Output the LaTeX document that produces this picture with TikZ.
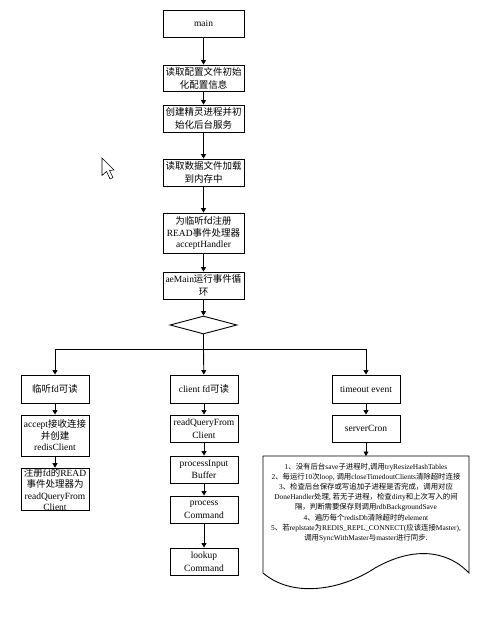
\documentclass[tikz,border=0pt]{standalone}
\usepackage{fontspec}
\setmainfont{Liberation Serif}
\newfontfamily\cjk{Noto Sans CJK SC}[Scale=1.0]
\newcommand{\zh}[1]{{\cjk #1}}
\usetikzlibrary{arrows.meta,shapes.geometric}
\tikzset{
  flow/.style={draw=black,line width=0.9pt,align=center,inner sep=0pt,font=\fontsize{9.5}{12.8}\selectfont,minimum width=81pt},
  side/.style={flow,minimum width=68pt},
  tight/.style={font=\fontsize{9.5}{11.5}\selectfont},
  link/.style={draw=black,line width=0.9pt,-{Triangle[length=4.5pt,width=5pt]}},
  plain/.style={draw=black,line width=0.9pt},
  doctext/.style={align=center,inner sep=0pt,font=\fontsize{7.4}{10.2}\selectfont},
}
\begin{document}
\begin{tikzpicture}[x=1pt,y=-1pt]
\useasboundingbox (0,0) rectangle (483,617);
\fill[white] (0,0) rectangle (483,617);
% cursor
\draw[line width=0.6pt,fill=white,line join=miter] (102,158) -- (102,175.5) -- (106.5,171.5) -- (110,179) -- (113,177.5) -- (109.5,170.5) -- (114,170) -- cycle;
% centre column
\node[flow,minimum height=27pt] (main) at (203.5,23.5) {main};
\node[flow,minimum height=26pt] (conf) at (203.5,78) {\zh{读取配置文件初始}\\\zh{化配置信息}};
\node[flow,minimum height=27pt] (daemon) at (203.5,118.5) {\zh{创建精灵进程并初}\\\zh{始化后台服务}};
\node[flow,minimum height=27pt] (load) at (203.5,172.5) {\zh{读取数据文件加载}\\\zh{到内存中}};
\node[flow,tight,minimum height=40pt] (reg) at (203.5,233) {\zh{为临听fd注册}\\READ\zh{事件处理器}\\acceptHandler};
\node[flow,minimum height=27pt] (loop) at (203.5,285.5) {aeMain\zh{运行事件循}\\\zh{环}};
\node[diamond,aspect=3.7,draw=black,line width=0.9pt,inner sep=0pt,minimum width=67pt,minimum height=18pt] (dec) at (203.5,325) {};
% bus
\coordinate (busL) at (55,349);
\coordinate (busM) at (203.5,349);
\coordinate (busR) at (366,349);
% left column
\node[side,minimum height=28pt] (lfd) at (55,389) {\zh{临听}fd\zh{可读}};
\node[side,tight,minimum height=41pt] (acc) at (55,435.5) {accept\zh{接收连接}\\\zh{并创建}\\redisClient};
\node[side,tight,minimum height=41pt] (rq) at (55,489.5) {\zh{注册}fd\zh{的}READ\\\zh{事件处理器为}\\readQueryFrom\\Client};
% middle column
\node[side,minimum height=28pt] (cfd) at (204,389) {client fd\zh{可读}};
\node[side,minimum height=27pt] (rqc) at (204,428.5) {readQueryFrom\\Client};
\node[side,minimum height=27pt] (pib) at (204,469.5) {processInput\\Buffer};
\node[side,minimum height=27pt] (pc) at (204,509.5) {process\\Command};
\node[side,minimum height=27pt] (lc) at (204,561.5) {lookup\\Command};
% right column
\node[side,minimum height=28pt] (te) at (366,389) {timeout event};
\node[side,minimum height=27pt] (sc) at (366,428.5) {serverCron};
\coordinate (dtop) at (366,456);
\draw[plain] (263,456) -- (469,456) -- (469,573) .. controls (445,548) and (410,548) .. (375,568) .. controls (345,588) and (295,600) .. (263,573) -- cycle;
\node[doctext] (note) at (366,502.5) {1\zh{、没有后台}save\zh{子进程时,调用}tryResizeHashTables\\
2\zh{、每运行}10\zh{次}loop, \zh{调用}closeTimedoutClients\zh{清除超时连接}\\
3\zh{、检查后台保存或写追加子进程是否完成，调用对应}\\
DoneHandler\zh{处理, 若无子进程，检查}dirty\zh{和上次写入的间}\\
\zh{隔，判断需要保存则调用}rdbBackgroundSave\\
4\zh{、遍历每个}redisDb\zh{清除超时的}element\\
5\zh{、若}replstate\zh{为}REDIS\_REPL\_CONNECT(\zh{应该连接}Master),\\
\zh{调用}SyncWithMaster\zh{与}master\zh{进行同步.}};
% connectors
\draw[link] (main) -- (conf);
\draw[link] (conf) -- (daemon);
\draw[link] (daemon) -- (load);
\draw[link] (load) -- (reg);
\draw[link] (reg) -- (loop);
\draw[link] (loop) -- (dec);
\draw[plain] (dec) -- (busM);
\draw[plain] (busL) -- (busR);
\draw[link] (busL) -- (lfd);
\draw[link] (busM) -- (cfd);
\draw[link] (busR) -- (te);
\draw[link] (lfd) -- (acc);
\draw[link] (acc) -- (rq);
\draw[link] (cfd) -- (rqc);
\draw[link] (rqc) -- (pib);
\draw[link] (pib) -- (pc);
\draw[link] (pc) -- (lc);
\draw[link] (te) -- (sc);
\draw[link] (sc) -- (dtop);
\end{tikzpicture}
\end{document}
